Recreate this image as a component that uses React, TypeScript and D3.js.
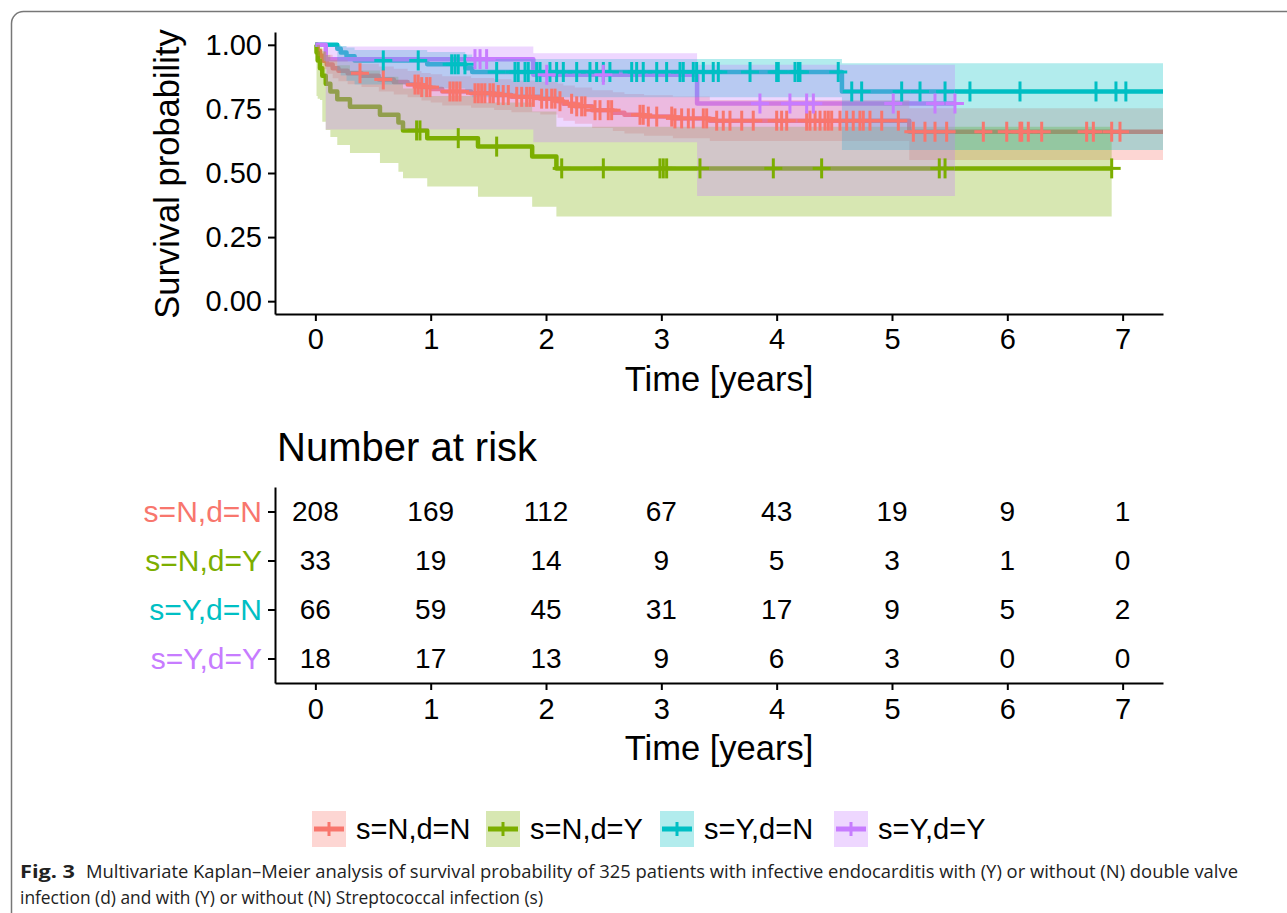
import React, { useEffect, useRef } from 'react';
import * as d3 from 'd3';

const FONT = '"Liberation Sans", Arial, Helvetica, sans-serif';

const strata = ['s=N,d=N', 's=N,d=Y', 's=Y,d=N', 's=Y,d=Y'];
const strataColors = ['#F8766D', '#7CAE00', '#00BFC4', '#C77CFF'];

// s=N,d=N  (step start times, survival, 95% CI)
const nnTime = [0, 0.02, 0.04, 0.07, 0.1, 0.15, 0.2, 0.28, 0.4, 0.55, 0.68, 0.8, 0.92, 1.0, 1.1, 1.35, 1.55, 1.7, 1.95, 2.1, 2.15, 2.25, 2.4, 2.58, 2.68, 2.85, 3.1, 3.42, 5.15, 7.6];
const nnSurv = [1, 0.976, 0.957, 0.938, 0.923, 0.909, 0.899, 0.889, 0.879, 0.865, 0.855, 0.845, 0.835, 0.828, 0.818, 0.811, 0.804, 0.797, 0.79, 0.78, 0.77, 0.76, 0.745, 0.735, 0.727, 0.72, 0.713, 0.704, 0.661, 0.661];
const nnLower = [1, 0.955, 0.93, 0.905, 0.887, 0.87, 0.858, 0.846, 0.835, 0.818, 0.806, 0.795, 0.783, 0.775, 0.763, 0.755, 0.746, 0.737, 0.728, 0.716, 0.704, 0.692, 0.676, 0.664, 0.654, 0.645, 0.636, 0.625, 0.551, 0.551];
const nnUpper = [1, 0.997, 0.985, 0.972, 0.961, 0.95, 0.942, 0.934, 0.926, 0.915, 0.907, 0.898, 0.89, 0.885, 0.877, 0.871, 0.866, 0.861, 0.856, 0.849, 0.841, 0.834, 0.823, 0.815, 0.808, 0.803, 0.798, 0.785, 0.753, 0.753];
const nnCensor = [0.387, 0.589, 0.864, 0.892, 0.922, 0.965, 0.994, 1.167, 1.196, 1.225, 1.254, 1.384, 1.413, 1.442, 1.47, 1.514, 1.543, 1.586, 1.629, 1.673, 1.746, 1.789, 1.832, 1.861, 1.89, 1.962, 2.006, 2.049, 2.078, 2.121, 2.222, 2.266, 2.309, 2.338, 2.425, 2.468, 2.54, 2.569, 2.815, 2.843, 2.887, 2.96, 3.09, 3.118, 3.176, 3.234, 3.277, 3.364, 3.393, 3.48, 3.537, 3.595, 3.697, 3.797, 4.0, 4.043, 4.087, 4.26, 4.289, 4.333, 4.376, 4.419, 4.448, 4.477, 4.549, 4.607, 4.664, 4.722, 4.751, 4.809, 4.911, 5.055, 5.185, 5.286, 5.373, 5.474, 5.792, 5.995, 6.11, 6.125, 6.182, 6.298, 6.688, 6.746, 6.905, 6.977];

// s=N,d=Y
const nyTime = [0, 0.01, 0.02, 0.04, 0.06, 0.09, 0.13, 0.19, 0.3, 0.56, 0.72, 0.76, 0.97, 1.41, 1.88, 2.09, 6.905];
const nySurv = [1, 0.97, 0.939, 0.909, 0.879, 0.848, 0.818, 0.788, 0.758, 0.727, 0.697, 0.666, 0.636, 0.603, 0.564, 0.518, 0.518];
const nyLower = [1, 0.8, 0.79, 0.785, 0.7, 0.668, 0.64, 0.609, 0.578, 0.539, 0.505, 0.48, 0.447, 0.407, 0.368, 0.33, 0.33];
const nyUpper = [1, 1, 1, 0.99, 0.975, 0.96, 0.94, 0.92, 0.9, 0.875, 0.85, 0.83, 0.8, 0.775, 0.74, 0.68, 0.68];
const nyCensor = [0.878, 0.907, 1.239, 1.572, 2.136, 2.497, 2.988, 3.017, 3.046, 3.335, 3.971, 4.39, 5.41, 5.46, 6.905];

// s=Y,d=N
const ynTime = [0, 0.19, 0.22, 0.27, 0.34, 0.97, 1.3, 1.36, 4.566, 7.6];
const ynSurv = [1, 0.985, 0.97, 0.955, 0.939, 0.924, 0.909, 0.894, 0.818, 0.818];
const ynLower = [1, 0.9, 0.88, 0.86, 0.845, 0.83, 0.81, 0.795, 0.59, 0.59];
const ynUpper = [1, 1, 0.995, 0.99, 0.98, 0.972, 0.962, 0.945, 0.928, 0.928];
const ynCensor = [0.589, 0.892, 1.182, 1.211, 1.239, 1.297, 1.572, 1.731, 1.759, 1.818, 1.846, 1.919, 1.948, 2.034, 2.092, 2.15, 2.266, 2.381, 2.439, 2.497, 2.554, 2.743, 2.786, 2.843, 2.96, 3.046, 3.162, 3.19, 3.277, 3.306, 3.364, 3.45, 3.494, 3.769, 4.0, 4.014, 4.159, 4.188, 4.202, 4.534, 4.651, 4.737, 5.084, 5.243, 5.46, 5.676, 6.11, 6.769, 6.942, 7.028];

// s=Y,d=Y
const yyTime = [0, 0.09, 1.89, 3.31, 5.546];
const yySurv = [1, 0.944, 0.883, 0.771, 0.771];
const yyLower = [1, 0.67, 0.62, 0.41, 0.41];
const yyUpper = [1, 0.993, 0.967, 0.922, 0.922];
const yyCensor = [1.384, 1.428, 1.485, 2.006, 2.497, 3.855, 4.115, 4.26, 4.318, 5.011, 5.373, 5.546];

const series = [
  { time: nnTime, surv: nnSurv, lower: nnLower, upper: nnUpper, censor: nnCensor },
  { time: nyTime, surv: nySurv, lower: nyLower, upper: nyUpper, censor: nyCensor },
  { time: ynTime, surv: ynSurv, lower: ynLower, upper: ynUpper, censor: ynCensor },
  { time: yyTime, surv: yySurv, lower: yyLower, upper: yyUpper, censor: yyCensor },
];

// number at risk table
const riskTimes = [0, 1, 2, 3, 4, 5, 6, 7];
const riskNN = [208, 169, 112, 67, 43, 19, 9, 1];
const riskNY = [33, 19, 14, 9, 5, 3, 1, 0];
const riskYN = [66, 59, 45, 31, 17, 9, 5, 2];
const riskYY = [18, 17, 13, 9, 6, 3, 0, 0];
const riskRows = [riskNN, riskNY, riskYN, riskYY];

const survTicks = [0, 0.25, 0.5, 0.75, 1];
const timeTicks = [0, 1, 2, 3, 4, 5, 6, 7];

const styleAxis = (g) => {
  g.attr('font-family', FONT).attr('font-size', 29);
  g.selectAll('path.domain').attr('stroke', '#000').attr('stroke-width', 2);
  g.selectAll('.tick line').attr('stroke', '#000').attr('stroke-width', 2);
  g.selectAll('.tick text').attr('fill', '#000');
};

export default function App() {
  const yAxisRef = useRef(null);
  const xAxisRef = useRef(null);
  const riskYRef = useRef(null);
  const riskXRef = useRef(null);

  const x = d3.scaleLinear().domain([-0.35, 7.35]).range([275, 1163]);
  const y = d3.scaleLinear().domain([-0.05, 1.05]).range([314, 32]);
  const yRisk = d3.scalePoint().domain(strata).range([487, 683]).padding(0.5);

  useEffect(() => {
    styleAxis(d3.select(yAxisRef.current).call(
      d3.axisLeft(y).tickValues(survTicks).tickFormat(d3.format('.2f')).tickSize(7).tickSizeOuter(0).tickPadding(6)));
    styleAxis(d3.select(xAxisRef.current).call(
      d3.axisBottom(x).tickValues(timeTicks).tickFormat(d3.format('d')).tickSize(7).tickSizeOuter(0).tickPadding(7)));
    const ry = d3.select(riskYRef.current).call(
      d3.axisLeft(yRisk).tickSize(7).tickSizeOuter(0).tickPadding(6));
    styleAxis(ry);
    ry.attr('font-size', 30);
    ry.selectAll('.tick text').attr('fill', (d) => strataColors[strata.indexOf(d)]);
    styleAxis(d3.select(riskXRef.current).call(
      d3.axisBottom(x).tickValues(timeTicks).tickFormat(d3.format('d')).tickSize(7).tickSizeOuter(0).tickPadding(8)));
  }, []);

  const rows = series.map((s) => s.time.map((t, i) => ({ t, s: s.surv[i], lo: s.lower[i], hi: s.upper[i] })));
  const line = d3.line().x((d) => x(d.t)).y((d) => y(d.s)).curve(d3.curveStepAfter);
  const band = d3.area().x((d) => x(d.t)).y0((d) => y(d.lo)).y1((d) => y(d.hi)).curve(d3.curveStepAfter);
  const survAt = (s, t) => s.surv[Math.max(0, d3.bisectRight(s.time, t) - 1)];

  return (
    <svg width={1287} height={913} style={{ position: 'absolute', left: 0, top: 0, background: '#fff' }}>
      <rect x={11.5} y={11.5} width={1290} height={920} rx={12} fill="#fff" stroke="#777" strokeWidth={1.5} />
      <defs>
        <clipPath id="panel">
          <rect x={275} y={32} width={888} height={282} />
        </clipPath>
      </defs>

      {/* survival curves: lines, then ribbons, then censor marks */}
      <g clipPath="url(#panel)">
        {rows.map((r, i) => (
          <path key={'l' + i} d={line(r)} fill="none" stroke={strataColors[i]} strokeWidth={4.5} strokeLinejoin="round" />
        ))}
        {rows.map((r, i) => (
          <path key={'b' + i} d={band(r)} fill={strataColors[i]} fillOpacity={0.3} stroke="none" />
        ))}
        {series.map((s, i) => (
          <g key={'c' + i} stroke={strataColors[i]} strokeWidth={3}>
            {s.censor.map((c, j) => {
              const cx = x(c);
              const cy = y(survAt(s, c));
              return (
                <g key={j}>
                  <line x1={cx} x2={cx} y1={cy - 10} y2={cy + 10} />
                  <line x1={cx - 9} x2={cx + 9} y1={cy} y2={cy} />
                </g>
              );
            })}
          </g>
        ))}
      </g>

      <g ref={yAxisRef} transform="translate(275,0)" />
      <g ref={xAxisRef} transform="translate(0,314)" />
      <text transform="translate(179,174) rotate(-90)" textAnchor="middle" fontFamily={FONT} fontSize={34.5} fill="#000">
        Survival probability
      </text>
      <text x={719} y={391} textAnchor="middle" fontFamily={FONT} fontSize={34.5} fill="#000">Time [years]</text>

      {/* number at risk */}
      <text x={277} y={461} fontFamily={FONT} fontSize={40} fill="#000">Number at risk</text>
      {riskRows.map((row, i) => (
        <g key={'r' + i}>
          {row.map((v, j) => (
            <text key={j} x={x(riskTimes[j])} y={yRisk(strata[i])} dy="0.35em" textAnchor="middle"
              fontFamily={FONT} fontSize={28} fill="#000">{v}</text>
          ))}
        </g>
      ))}
      <g ref={riskYRef} transform="translate(275,0)" />
      <g ref={riskXRef} transform="translate(0,683)" />
      <text x={719} y={760} textAnchor="middle" fontFamily={FONT} fontSize={34.5} fill="#000">Time [years]</text>

      {/* legend */}
      {strata.map((name, i) => {
        const kx = 312 + i * 174;
        const ky = 811;
        return (
          <g key={'k' + i}>
            <rect x={kx} y={ky} width={34} height={36} fill={strataColors[i]} fillOpacity={0.3} />
            <line x1={kx + 2} x2={kx + 32} y1={ky + 18} y2={ky + 18} stroke={strataColors[i]} strokeWidth={5} />
            <line x1={kx + 17} x2={kx + 17} y1={ky + 11} y2={ky + 25} stroke={strataColors[i]} strokeWidth={3} />
            <text x={kx + 44} y={ky + 28} fontFamily={FONT} fontSize={29} fill="#000">{name}</text>
          </g>
        );
      })}

      {/* caption */}
      <text x={20} y={878} fontFamily='"Open Sans", sans-serif' fontSize={18.5} fontWeight="bold" fill="#222"
        textLength={55} lengthAdjust="spacingAndGlyphs">Fig. 3</text>
      <text x={86} y={878} fontFamily='"Open Sans", sans-serif' fontSize={18.5} fill="#222"
        textLength={1152} lengthAdjust="spacingAndGlyphs">
        Multivariate Kaplan–Meier analysis of survival probability of 325 patients with infective endocarditis with (Y) or without (N) double valve
      </text>
      <text x={20} y={904} fontFamily='"Open Sans", sans-serif' fontSize={18.5} fill="#222"
        textLength={523} lengthAdjust="spacingAndGlyphs">
        infection (d) and with (Y) or without (N) Streptococcal infection (s)
      </text>
    </svg>
  );
}
